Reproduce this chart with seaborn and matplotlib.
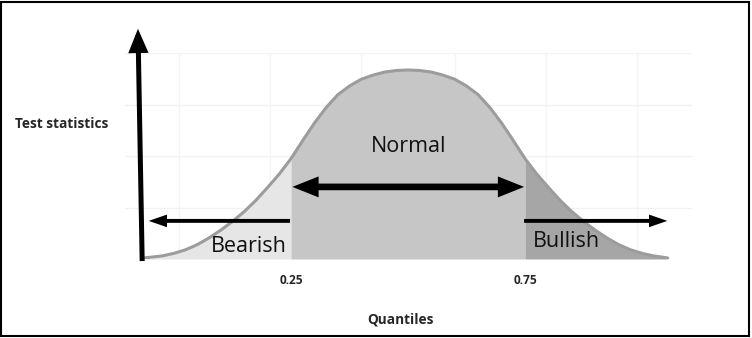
import seaborn as sns
import matplotlib.pyplot as plt
import numpy as np
from matplotlib.patches import FancyArrowPatch, Rectangle

# curve (x in quantile units, y in grid units)
curve_x = [-0.065, -0.025, 0.0, 0.025, 0.05, 0.075, 0.10, 0.125, 0.15, 0.175,
           0.20, 0.225, 0.25, 0.275, 0.30, 0.325, 0.35, 0.375, 0.40, 0.425,
           0.45, 0.475, 0.50, 0.525, 0.55, 0.575, 0.60, 0.625, 0.65, 0.675,
           0.70, 0.725, 0.75, 0.775, 0.80, 0.825, 0.85, 0.875, 0.90, 0.925,
           0.95, 0.975, 1.00, 1.025, 1.055]
curve_y = [0.02, 0.06, 0.11, 0.18, 0.28, 0.41, 0.56, 0.73, 0.92, 1.14,
           1.39, 1.65, 1.95, 2.30, 2.64, 2.94, 3.19, 3.36, 3.49, 3.57,
           3.63, 3.66, 3.67, 3.66, 3.63, 3.57, 3.49, 3.36, 3.19, 2.94,
           2.64, 2.30, 1.95, 1.65, 1.39, 1.14, 0.92, 0.73, 0.56, 0.41,
           0.28, 0.18, 0.11, 0.06, 0.02]
cut_low, cut_high = 0.25, 0.75
tick_labels = ['0.25', '0.75']
grid_x = [0.01, 0.205, 0.40, 0.60, 0.795, 0.99]
grid_y = [0, 1, 2, 3, 4]

sns.set_theme(style='white')
plt.rcParams['font.family'] = ['Open Sans', 'DejaVu Sans']

fig = plt.figure(figsize=(7.52, 3.38), dpi=100)
ax = fig.add_axes([125 / 752, 79 / 338, 567 / 752, 206 / 338])
ax.set_xlim(-0.1047, 1.1068)
ax.set_ylim(0, 4)

# very faint grid
for gx in grid_x:
    ax.axvline(gx, color='#f5f5f5', lw=1, zorder=0)
for gy in grid_y:
    ax.axhline(gy, color='#f2f2f2', lw=1, zorder=0)

x = np.array(curve_x)
y = np.array(curve_y)
ax.fill_between(x, y, where=x <= cut_low, color='#e6e6e6', lw=0, zorder=1)
ax.fill_between(x, y, where=(x >= cut_low) & (x <= cut_high), color='#c6c6c6', lw=0, zorder=1)
ax.fill_between(x, y, where=x >= cut_high, color='#a6a6a6', lw=0, zorder=1)
sns.lineplot(x=curve_x, y=curve_y, color='#9c9c9c', lw=2.2, ax=ax, zorder=2)


def arrow(tail, tip, style, lw, hl, hw):
    a = FancyArrowPatch(tail, tip, arrowstyle=f'{style},head_length={hl},head_width={hw}',
                        mutation_scale=1, lw=lw, color='black', shrinkA=0, shrinkB=0,
                        clip_on=False, zorder=5, joinstyle='miter', capstyle='butt')
    ax.add_patch(a)


# vertical axis arrow
arrow((-0.068, -0.04), (-0.077, 4.47), '-|>', 3.6, 11, 4.6)
# double arrow for the normal range
arrow((cut_low + 0.003, 1.40), (cut_high - 0.002, 1.40), '<|-|>', 4.8, 10, 4.0)
# bearish and bullish arrows
arrow((cut_low - 0.002, 0.74), (-0.054, 0.74), '-|>', 2.8, 7.5, 2.6)
arrow((cut_high - 0.002, 0.74), (1.054, 0.74), '-|>', 2.8, 7.5, 2.6)

ax.text(0.502, 2.07, 'Normal', fontsize=15.5, ha='center', va='baseline', color='#111111')
ax.text(0.2415, 0.142, 'Bearish', fontsize=15.5, ha='right', va='baseline', color='#111111')
ax.text(0.767, 0.239, 'Bullish', fontsize=15.5, ha='left', va='baseline', color='#111111')

ax.set_xticks([cut_low, cut_high], labels=tick_labels)
ax.tick_params(axis='x', length=0, pad=10.5, labelsize=8.6)
for t in ax.get_xticklabels():
    t.set_fontweight('bold')
ax.set_yticks([])

ax.text(0.484, -1.243, 'Quantiles', fontsize=9.8, fontweight='bold', ha='center',
        va='baseline', clip_on=False)
ax.text(-0.239, 2.54, 'Test statistics', fontsize=9.8, fontweight='bold', ha='center',
        va='baseline', clip_on=False)

for s in ax.spines.values():
    s.set_visible(False)
ax.patch.set_alpha(0)

fig.add_artist(Rectangle((1.5 / 752, 2 / 338), 747.5 / 752, 334 / 338,
                         transform=fig.transFigure, fill=False, lw=1.5, ec='black'))

fig.savefig('out.png', dpi=100)
